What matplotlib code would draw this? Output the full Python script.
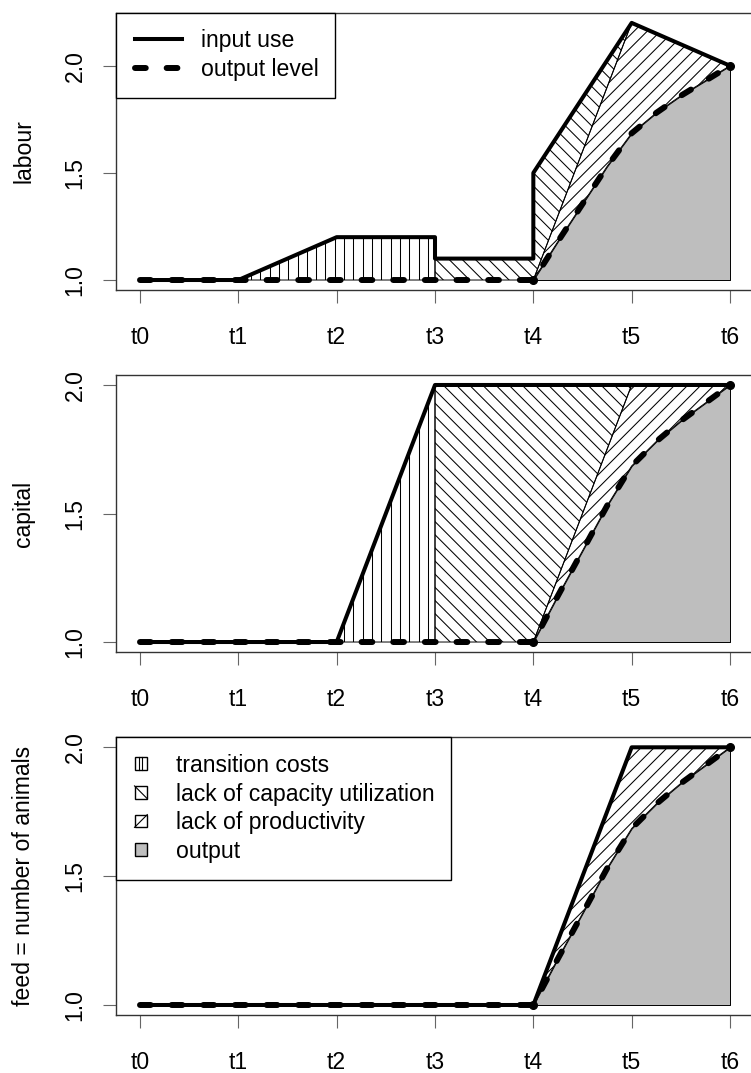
import numpy as np
import matplotlib.pyplot as plt
from matplotlib.patches import Polygon, Rectangle, Patch
from matplotlib.lines import Line2D
from matplotlib.collections import LineCollection
from matplotlib.transforms import IdentityTransform
from matplotlib.legend_handler import HandlerBase, HandlerLine2D

FS = 16.6
plt.rcParams['font.family'] = ['Liberation Sans', 'DejaVu Sans']
plt.rcParams['font.size'] = FS

# time points and labels
t = [0, 1, 2, 3, 4, 5, 6]
t_labels = ['t0', 't1', 't2', 't3', 't4', 't5', 't6']
y_ticks = [1.0, 1.5, 2.0]
y_tick_labels = ['1.0', '1.5', '2.0']

output_t = [0, 1, 2, 3, 4, 4.25, 4.5, 4.75, 5, 5.25, 5.5, 5.75, 6]
output_lvl = [1, 1, 1, 1, 1, 1.18, 1.355, 1.53, 1.685, 1.78, 1.86, 1.93, 2.0]

# input use, labour jumps at t3 and t4
labour_t = [0, 1, 2, 3, 3, 4, 4, 5, 6]
labour_use = [1, 1, 1.2, 1.2, 1.1, 1.1, 1.5, 2.2, 2.0]
capital_t = t
capital_use = [1, 1, 1, 2, 2, 2, 2]
feed_t = t
feed_use = [1, 1, 1, 1, 1, 2, 2]

# line of full capacity use between t4 and t5
capacity_t = [4, 5]
labour_cap = [1, 2.2]
capital_cap = [1, 2.0]
feed_cap = [1, 2.0]

# (start of transition costs, start of lack of capacity utilization)
labour_spans = (1, 3)
capital_spans = (2, 3)
feed_spans = None

ylabels = ['labour', 'capital', 'feed = number of animals']
legend_lines = ['input use', 'output level']
legend_areas = ['transition costs', 'lack of capacity utilization',
                'lack of productivity', 'output']

GREY = '#bebebe'
W, H = 751, 1073
PX = 100 / 72.0          # pixels per point
EM = FS * PX             # font size in pixels


def part(xs, ys, a, b):
    return [(x, y) for x, y in zip(xs, ys) if a <= x <= b]


def hatch(ax, verts, angle, spacing=9.3):
    poly = Polygon(verts, closed=True, facecolor='none', edgecolor='black',
                   lw=0.7, zorder=2)
    ax.add_patch(poly)
    pts = ax.transData.transform(np.array(verts))
    lo, hi = pts.min(0), pts.max(0)
    th = np.deg2rad(angle)
    d = np.array([np.cos(th), np.sin(th)])
    n = np.array([-d[1], d[0]])
    corners = np.array([[lo[0], lo[1]], [hi[0], lo[1]], [lo[0], hi[1]], [hi[0], hi[1]]])
    proj = corners @ n
    c = (lo + hi) / 2
    L = np.hypot(*(hi - lo)) + 10
    offs = np.arange(np.floor(proj.min() / spacing) * spacing, proj.max() + spacing, spacing)
    segs = []
    for o in offs:
        base = n * o + d * np.dot(c, d)
        segs.append([base - d * L, base + d * L])
    lc = LineCollection(segs, colors='black', linewidths=0.75,
                        transform=IdentityTransform(), zorder=2)
    lc.set_clip_path(poly)
    ax.add_collection(lc, autolim=False)


class BoxHandler(HandlerBase):
    def __init__(self, kind):
        super().__init__()
        self.kind = kind

    def create_artists(self, legend, orig_handle, xdescent, ydescent,
                       width, height, fontsize, trans):
        s = height
        x0 = -xdescent + width - s
        y0 = -ydescent
        face = GREY if self.kind == 'output' else 'white'
        arts = [Rectangle((x0, y0), s, s, facecolor=face, edgecolor='black',
                          lw=1.0, transform=trans)]
        if self.kind == 'vert':
            for f in (0.33, 0.62):
                arts.append(Line2D([x0 + f * s, x0 + f * s], [y0, y0 + s],
                                   color='black', lw=0.8, transform=trans))
        elif self.kind == 'back':
            arts.append(Line2D([x0, x0 + s], [y0 + s, y0], color='black',
                               lw=0.8, transform=trans))
        elif self.kind == 'fwd':
            arts.append(Line2D([x0, x0 + s], [y0, y0 + s], color='black',
                               lw=0.8, transform=trans))
        return arts


panels = [(labour_t, labour_use, labour_cap, labour_spans),
          (capital_t, capital_use, capital_cap, capital_spans),
          (feed_t, feed_use, feed_cap, feed_spans)]

# axes boxes in pixels: (top, bottom)
boxes = [(12.6, 290.3), (374.7, 652.3), (737.0, 1015.3)]
left_px, right_px = 116.4, 753.6

fig = plt.figure(figsize=(W / 100, H / 100), dpi=100)
axes = []
for top, bot in boxes:
    axes.append(fig.add_axes([left_px / W, 1 - bot / H,
                              (right_px - left_px) / W, (bot - top) / H]))

for i, (ax, (xs, ys, cap, spans)) in enumerate(zip(axes, panels)):
    lo, hi = min(ys), max(ys)
    pad = 0.04 * (hi - lo)
    ax.set_xlim(t[0] - 0.04 * (t[-1] - t[0]), t[-1] + 0.04 * (t[-1] - t[0]))
    ax.set_ylim(lo - pad, hi + pad)

    out = part(output_t, output_lvl, 4, 6)
    ax.fill_between([p[0] for p in out], 1, [p[1] for p in out],
                    facecolor=GREY, edgecolor='black', lw=0.7, zorder=1)

    capline = list(zip(capacity_t, cap))
    if spans:
        a, b = spans
        upper = part(xs, ys, a, b)
        lower = part(output_t, output_lvl, a, b)
        hatch(ax, upper + lower[::-1], 90)
        upper = part(xs, ys, b, 5)
        lower = part(output_t, output_lvl, b, 4) + capline
        hatch(ax, upper + lower[::-1], -45)
    upper = capline + part(xs, ys, 5, 6)
    hatch(ax, upper + out[::-1], 45)

    ax.plot(xs, ys, color='black', lw=2.9, solid_capstyle='round',
            solid_joinstyle='round', zorder=3)
    ax.plot(output_t, output_lvl, color='black', lw=4.3, ls=(0, (1.8, 3.5)),
            dash_capstyle='round', zorder=4)
    ax.plot([output_t[4], output_t[-1]], [output_lvl[4], output_lvl[-1]], 'o',
            ms=5.5, color='black', zorder=5)

    ax.set_xticks(t)
    ax.set_xticklabels(t_labels)
    ax.set_yticks(y_ticks)
    ax.set_yticklabels(y_tick_labels)
    ax.tick_params(axis='both', direction='out', length=9.4, width=0.8,
                   color='#666666', labelsize=FS)
    ax.tick_params(axis='x', pad=16.5)
    ax.tick_params(axis='y', pad=12, labelrotation=90)
    for lab in ax.get_yticklabels():
        lab.set_va('center')
    for sp in ax.spines.values():
        sp.set_linewidth(1.0)
        sp.set_color('#333333')

    top, bot = boxes[i]
    fig.text(24 / W, 1 - (top + bot) / 2 / H, ylabels[i], rotation=90,
             ha='center', va='center', fontsize=FS)

# legend for the lines
h_lines = [Line2D([], [], color='black', lw=2.9),
           Line2D([], [], color='black', lw=4.3, ls=(0, (1.8, 3.5)),
                  dash_capstyle='round')]
leg = axes[0].legend(h_lines, legend_lines, loc='upper left', borderaxespad=0,
                     fancybox=False, edgecolor='black', framealpha=1,
                     borderpad=16.8 / EM, labelspacing=5.7 / EM,
                     handlelength=48.8 / EM, handletextpad=18.7 / EM,
                     handler_map={Line2D: HandlerLine2D(xpad=1.8 / EM)})
leg.get_frame().set_linewidth(1.0)

# legend for the areas
h_areas = [Patch(label=s) for s in legend_areas]
kinds = ['vert', 'back', 'fwd', 'output']
leg3 = axes[2].legend(h_areas, legend_areas, loc='upper left', borderaxespad=0,
                      fancybox=False, edgecolor='black', framealpha=1,
                      borderpad=16.8 / EM, labelspacing=5.7 / EM,
                      handlelength=14.1 / EM, handleheight=11 / EM,
                      handletextpad=28.4 / EM,
                      handler_map={h: BoxHandler(k) for h, k in zip(h_areas, kinds)})
leg3.get_frame().set_linewidth(1.0)

fig.savefig('out.png', dpi=100)
